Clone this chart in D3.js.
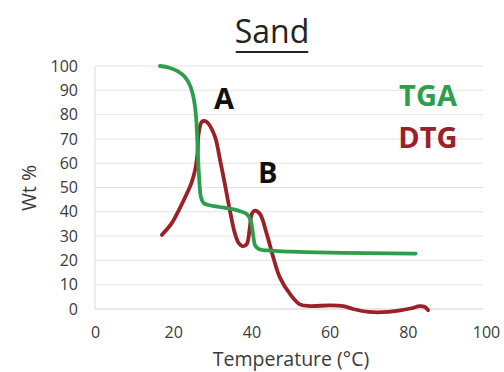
<!DOCTYPE html>
<html><head><meta charset="utf-8">
<script src="https://cdn.jsdelivr.net/npm/d3@7"></script>
<style>body{margin:0;background:#fff;}svg{display:block;}</style>
</head><body>
<svg id="c" width="504" height="372"></svg>
<script>
const chartTitle = "Sand";
const xTicks = [0, 20, 40, 60, 80, 100];
const yTicks = [0, 10, 20, 30, 40, 50, 60, 70, 80, 90, 100];
const tgaTemp = [16.6, 19, 21.2, 23, 24.3, 25.2, 25.8, 26.2, 26.6, 27.1, 27.8, 29, 33, 37, 38.9, 39.8, 40.4, 41, 42, 45, 50, 60, 70, 82];
const tgaWt   = [100, 99.3, 97.8, 95.5, 92, 87, 80, 68, 55, 46, 43.6, 42.8, 41.7, 40.3, 39, 36.5, 31, 26, 24.6, 24, 23.6, 23.2, 23, 22.8];
const dtgTemp = [17.1, 19.5, 21.7, 23.5, 24.7, 25.7, 26.2, 26.5, 27.3, 28.2, 29, 30.7, 32, 33.2, 34.5, 35.8, 36.8, 37.8, 38.8, 39.6, 40.1, 40.9, 42.2, 43.9, 45.6, 47.3, 49.9, 52.4, 55, 60, 63.5, 66, 70, 75, 78, 81, 83, 84.4, 85.2];
const dtgVal  = [30.5, 35, 41.5, 47.5, 52, 58, 64, 72, 77, 77.3, 76.3, 70.8, 61.2, 51.5, 40.5, 31, 27, 25.8, 26.7, 33.6, 39.1, 40.5, 39.1, 31, 21.2, 12.9, 6.1, 1.9, 1.2, 1.5, 1.2, 0, -1.2, -1.2, -0.6, 0.3, 1.2, 0.8, -0.5];
const annotations = [{t: "A", x: 33, y: 87.2}, {t: "B", x: 44.2, y: 56.4}];
const legendLabels = ["TGA", "DTG"];

const svg = d3.select("#c");
const x = d3.scaleLinear().domain([0, 100]).range([95, 486]);
const y = d3.scaleLinear().domain([0, 100]).range([309, 66]);
const green = "#2f9e4c", red = "#9b2128";

// gridlines
svg.append("g").selectAll("line").data(yTicks.filter(d => d > 0)).join("line")
  .attr("x1", x(0)).attr("x2", x(100) - 3)
  .attr("y1", d => y(d)).attr("y2", d => y(d))
  .attr("stroke", "#e3e3e3").attr("stroke-width", 1);
// axes lines
svg.append("line").attr("x1", x(0)).attr("x2", x(100) - 3).attr("y1", y(0)).attr("y2", y(0))
  .attr("stroke", "#d0d0d0").attr("stroke-width", 1.2);
svg.append("line").attr("x1", x(0)).attr("x2", x(0)).attr("y1", y(0)).attr("y2", y(100))
  .attr("stroke", "#dcdcdc").attr("stroke-width", 1);

const font = "'Open Sans', 'Liberation Sans', sans-serif";
const txt = "#3a3a3a";
// y axis ticks
const ya = svg.append("g").attr("transform", `translate(${x(0) - 17},0)`)
  .call(d3.axisLeft(y).tickValues(yTicks).tickSize(0).tickPadding(0));
ya.select(".domain").remove();
ya.selectAll("text").attr("font-family", font).attr("font-size", 16).attr("fill", txt);
// x axis ticks
const xa = svg.append("g").attr("transform", `translate(0,${y(0)})`)
  .call(d3.axisBottom(x).tickValues(xTicks).tickSize(0).tickPadding(18));
xa.select(".domain").remove();
xa.selectAll("text").attr("font-family", font).attr("font-size", 16).attr("fill", txt);

// axis titles
svg.append("text").attr("x", 291).attr("y", 366).attr("text-anchor", "middle")
  .attr("font-family", font).attr("font-size", 19.5).attr("fill", txt).text("Temperature (°C)");
svg.append("text").attr("transform", "translate(36,188) rotate(-90)").attr("text-anchor", "middle")
  .attr("font-family", font).attr("font-size", 19.5).attr("fill", txt).text("Wt %");

// title
const tt = svg.append("text").attr("x", 272).attr("y", 43).attr("text-anchor", "middle")
  .attr("font-family", font).attr("font-size", 32).attr("fill", "#222").text(chartTitle);
const tb = tt.node().getBBox();
svg.append("line").attr("x1", tb.x + 1).attr("x2", tb.x + tb.width - 1).attr("y1", 52).attr("y2", 52)
  .attr("stroke", "#222").attr("stroke-width", 2.2);

// lines
const line = d3.line().x(d => x(d[0])).y(d => y(d[1])).curve(d3.curveCatmullRom.alpha(0.5));
svg.append("path").datum(dtgTemp.map((t, i) => [t, dtgVal[i]])).attr("d", line)
  .attr("fill", "none").attr("stroke", red).attr("stroke-width", 3.8).attr("stroke-linejoin", "round").attr("stroke-linecap", "round");
svg.append("path").datum(tgaTemp.map((t, i) => [t, tgaWt[i]])).attr("d", line)
  .attr("fill", "none").attr("stroke", green).attr("stroke-width", 3.8).attr("stroke-linejoin", "round").attr("stroke-linecap", "round");

// annotations
svg.append("g").selectAll("text").data(annotations).join("text")
  .attr("x", d => x(d.x)).attr("y", d => y(d.y)).attr("text-anchor", "middle").attr("dominant-baseline", "central")
  .attr("font-family", font).attr("font-weight", "bold").attr("font-size", 29).attr("fill", "#111").text(d => d.t);
// legend labels
svg.append("g").selectAll("text").data(legendLabels).join("text")
  .attr("x", 428).attr("y", (d, i) => [94, 136][i]).attr("text-anchor", "middle").attr("dominant-baseline", "central")
  .attr("font-family", font).attr("font-weight", "bold").attr("font-size", 29)
  .attr("fill", (d, i) => [green, red][i]).text(d => d);
</script>
</body></html>
